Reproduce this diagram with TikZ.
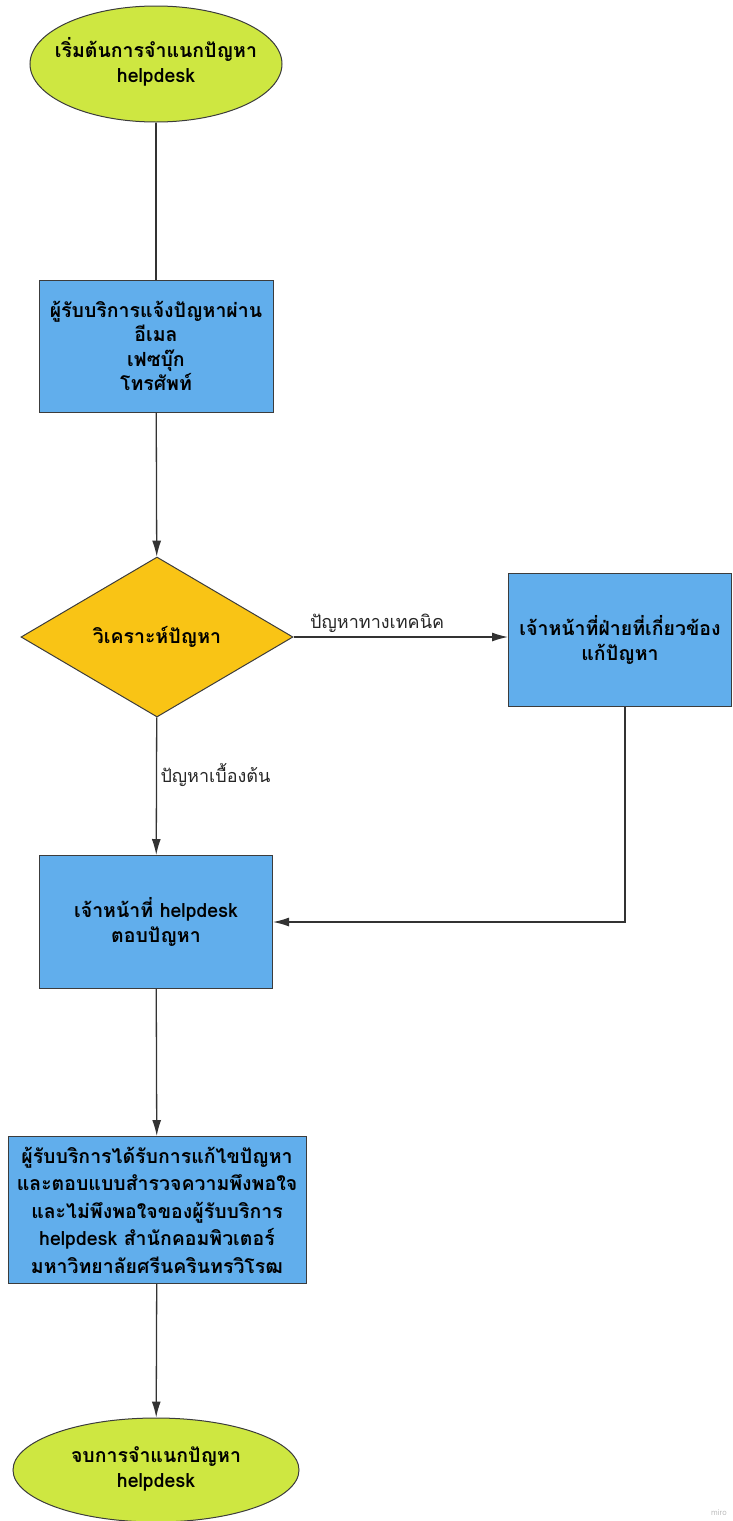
\documentclass[tikz,border=0pt]{standalone}
\usepackage{fontspec}
\setmainfont[Script=Thai]{Loma}
\usepackage{tikz}
\usetikzlibrary{shapes.geometric,arrows.meta}
\definecolor{limefill}{RGB}{206,231,65}
\definecolor{boxblue}{RGB}{97,174,236}
\definecolor{deciyellow}{RGB}{249,196,21}
\definecolor{edgegray}{RGB}{60,60,60}

\begin{document}
\begin{tikzpicture}[x=1pt,y=-1pt,>={Latex[length=16pt,width=9pt]},
  terminal/.style={ellipse,draw=edgegray,line width=1pt,fill=limefill,inner sep=0pt,
    font=\fontsize{19.5}{25}\selectfont\bfseries},
  process/.style={rectangle,draw=edgegray,line width=1pt,fill=boxblue,inner sep=0pt,align=center,
    font=\fontsize{19.5}{24.5}\selectfont\bfseries},
  decision/.style={diamond,draw=edgegray,line width=1pt,fill=deciyellow,inner sep=0pt,
    font=\fontsize{19.5}{24}\selectfont\bfseries},
  flowlabel/.style={font=\fontsize{18}{20}\selectfont,text=black!85},
  link/.style={line width=1.3pt,draw=black!80}]
  \useasboundingbox (0,0) rectangle (732,1521);
  % กล่องต่าง ๆ
  \node[terminal,minimum width=252,minimum height=116] (start) at (156,64)
    {\makebox[0pt]{\begin{tabular}{@{}c@{}}เริ่มต้นการจำแนกปัญหา\\helpdesk\end{tabular}}};
  \node[process,minimum width=234,minimum height=132] (ask) at (156,346)
    {ผู้รับบริการแจ้งปัญหาผ่าน\\อีเมล\\เฟซบุ๊ก\\โทรศัพท์};
  \node[decision,minimum width=272,minimum height=160] (analyze) at (157,637) {วิเคราะห์ปัญหา};
  \node[process,minimum width=223,minimum height=133] (fix) at (620,640)
    {เจ้าหน้าที่ฝ่ายที่เกี่ยวข้อง\\แก้ปัญหา};
  \node[process,minimum width=233,minimum height=133] (answer) at (156,922)
    {เจ้าหน้าที่ helpdesk\\ตอบปัญหา};
  \node[process,minimum width=298,minimum height=147,font=\fontsize{19.5}{27.5}\selectfont\bfseries] (result) at (157,1210)
    {ผู้รับบริการได้รับการแก้ไขปัญหา\\และตอบแบบสำรวจความพึงพอใจ\\และไม่พึงพอใจของผู้รับบริการ\\helpdesk สำนักคอมพิวเตอร์\\มหาวิทยาลัยศรีนครินทรวิโรฒ};
  \node[terminal,minimum width=286,minimum height=104] (finish) at (156,1470)
    {\makebox[0pt]{\begin{tabular}{@{}c@{}}จบการจำแนกปัญหา\\helpdesk\end{tabular}}};
  % เส้นเชื่อม
  \draw[link] (start) -- (ask);
  \draw[link,->] (ask) -- (analyze);
  \draw[link,->] (analyze.east) -- node[flowlabel,above,pos=0.39] {ปัญหาทางเทคนิค} (fix.west |- analyze.east);
  \draw[link,->] (analyze) -- node[flowlabel,right,pos=0.42] {ปัญหาเบื้องต้น} (answer);
  \draw[link,->] ([xshift=5pt]fix.south) |- (answer.east);
  \draw[link,->] (answer) -- (result);
  \draw[link,->] (result) -- (finish);
  \node[font=\fontsize{8}{9}\selectfont,text=black!25] (miro) at (719,1513) {miro};
\end{tikzpicture}
\end{document}
